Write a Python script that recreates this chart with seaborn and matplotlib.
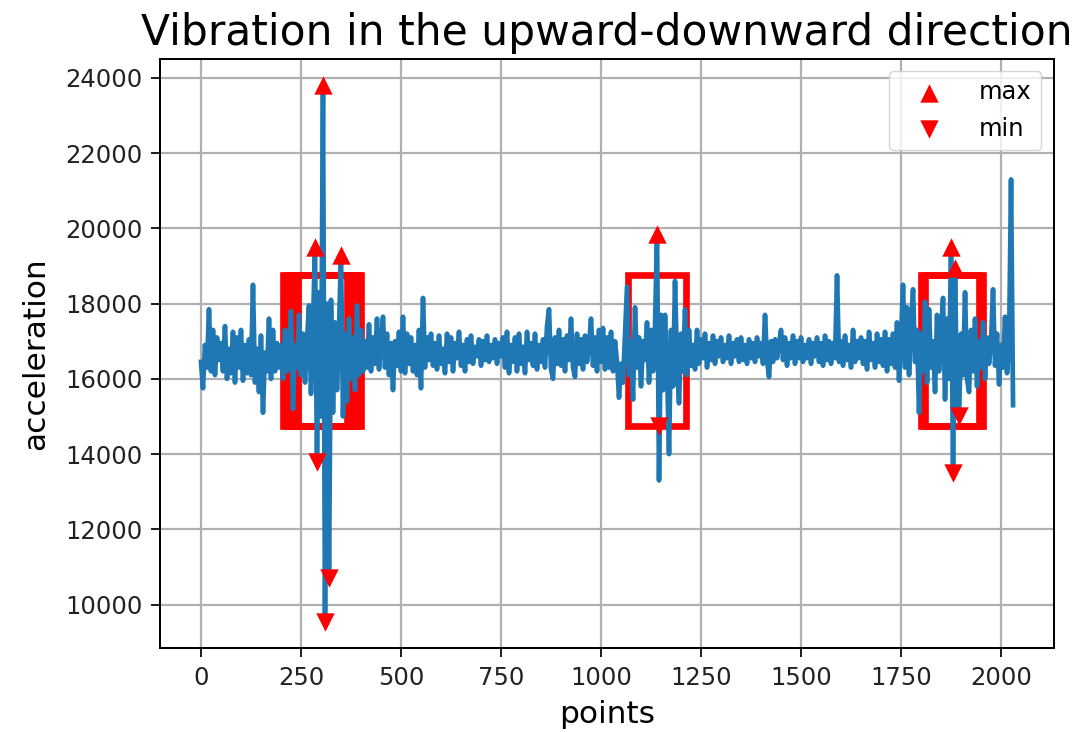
import numpy as np
import pandas as pd
import matplotlib
matplotlib.use("Agg")
import matplotlib.pyplot as plt
import seaborn as sns
from matplotlib.patches import Rectangle

# ---------------- data (one sample every 5 points) ----
step = 5
seg_quiet_start = [
    16450, 15750, 16900, 16300, 17850, 16200, 17300, 16100, 17100, 16500,
    16950, 16200, 17400, 16000, 16800, 16150, 17250, 15900, 17100, 16300,
    17300, 15950, 16900, 16150, 17050, 16100, 18500, 15900, 16800, 15650,
    17150, 15100, 16700, 16200, 17600, 16000, 17300, 16200, 16950, 16300,
]
seg_burst_1 = [
    16900, 16000, 17300, 16200, 16800, 17800, 15200, 16900, 16300, 17700,
    16100, 17200, 15900, 17000, 17950, 15600, 17400, 19500, 13800, 18300,
    15000, 23800, 9550, 18000, 10700, 18100, 15100, 17500, 15700, 17300,
    19300, 15000, 17200, 15400, 17600, 16000, 17100, 15700, 17950, 16100,
    17300, 16200, 17000,
]
seg_quiet_mid = [
    16300, 17450, 16200, 17100, 16400, 17600, 16250, 16900, 17650, 16300,
    17200, 16100, 16950, 15700, 17000, 16350, 17250, 16200, 17650, 16150,
    17200, 16400, 17100, 16200, 16900, 16100, 17300, 15750, 18150, 16300,
    17100, 16500, 17200, 16350, 16950, 16250, 17150, 16400, 16800, 16150,
    17200, 16450, 17100, 16200, 16950, 16550, 17250, 16350, 16900, 16200,
    17050, 16450, 17150, 16400, 16850, 16600, 17050, 16350, 17000, 16500,
    17150, 16450, 16900, 16550, 17050, 16400, 16950, 16600, 17100, 16300,
    17250, 16150, 16900, 16450, 17100, 16200, 17200, 16400, 16850, 16150,
    17250, 16500, 16950, 16350, 17200, 16250, 16900, 16450, 17050, 16300,
    17400, 17850, 16250, 16000, 17100, 16400, 17300, 16350, 17050, 16200,
    17150, 16500, 17600, 16300, 16050, 17200, 16400, 17050, 16250, 17150,
    16450, 16900, 17600, 16350, 17100, 16200, 17300, 16450, 17350, 16250,
    17100, 16300, 17250, 16200, 17000, 16450, 15500,
]
seg_burst_2 = [
    16400, 15900, 17200, 18450, 16100, 17000, 15450, 17900, 16300, 17100,
    15800, 17000, 16500, 17500, 15900, 17300, 16200, 17400, 19850, 13300,
    17700, 15700, 17700, 16300, 14000, 17300, 15800, 18600, 16400, 15350,
    17200, 16200, 17850, 16100, 17300, 16350,
]
seg_quiet_late = [
    16900, 16250, 17300, 16400, 17050, 16550, 17200, 16300, 16950, 16500,
    17150, 16400, 17000, 16600, 17100, 16450, 16900, 16550, 17150, 16400,
    16950, 16600, 17050, 16450, 17100, 16500, 16900, 16400, 17050, 16550,
    16950, 16450, 17100, 16600, 16950, 16400, 17700, 16500, 16050, 17000,
    16450, 17050, 16550, 16950, 17300, 16500, 17100, 16350, 16950, 16550,
    17150, 16400, 17000, 16550, 17100, 16450, 16900, 16550, 17050, 16400,
    16950, 16600, 17100, 16450, 16950, 16350, 17150, 16500, 17000, 16400,
    16950, 16550, 18750, 16450, 17000, 16350, 17150, 16500, 16900, 16300,
    17300, 16450, 17000, 16550, 17100, 16400, 17000, 16250, 17250, 16500,
    16950, 16300, 17200, 16450, 17050, 16350, 17250, 16200, 17050, 16400,
    17200, 16300, 17500, 15950,
]
seg_burst_3 = [
    17100, 18500, 16300, 17900, 16100, 17400, 18380, 16450, 17300, 15100,
    17200, 16200, 18050, 15900, 17850, 16300, 17000, 15650, 17700, 16200,
    17300, 18150, 15450, 17600, 16000, 19500, 13500, 18950, 15300, 15000,
    17200, 16100, 18300, 16000, 15650, 17300, 16200, 17600, 15800, 17000,
    16300, 17500, 16000, 17100, 16400, 17000, 18380, 16350, 17200, 15850,
    16900, 16300, 17650, 16150, 16900, 21300, 15300,
]

acceleration = np.array(seg_quiet_start + seg_burst_1 + seg_quiet_mid
                        + seg_burst_2 + seg_quiet_late + seg_burst_3, dtype=float)
points = np.arange(len(acceleration)) * step

max_x = [285, 305, 350, 1140, 1875, 1885]
max_y = [19500, 23800, 19300, 19850, 19500, 18950]
min_x = [290, 310, 320, 1145, 1880, 1895]
min_y = [13800, 9550, 10700, 14750, 13500, 15000]

# anomaly boxes (start point, end point), shared vertical range
box_x0 = [205, 215, 225, 235, 243, 1067, 1800, 1809]
box_x1 = [366, 376, 386, 393, 399, 1213, 1946, 1955]
box_low, box_high = 14750, 18750

title = "Vibration in the upward-downward direction"
xlabel = "points"
ylabel = "acceleration"
xticks = [0, 250, 500, 750, 1000, 1250, 1500, 1750, 2000]
yticks = [10000, 12000, 14000, 16000, 18000, 20000, 22000, 24000]

# ---------------- plot ------------------------------------------------------
plt.rcParams["font.family"] = ["DejaVu Sans"]
fig, ax = plt.subplots(figsize=(10.8, 7.32), dpi=100)
fig.subplots_adjust(left=0.1485, right=0.9756, bottom=0.1143, top=0.920)

df = pd.DataFrame({"points": points, "acceleration": acceleration})
sns.lineplot(data=df, x="points", y="acceleration", ax=ax, color="#1f77b4",
             linewidth=3.4, estimator=None, zorder=2)

for x0, x1 in zip(box_x0, box_x1):
    ax.add_patch(Rectangle((x0, box_low), x1 - x0, box_high - box_low,
                           fill=False, edgecolor="red", linewidth=4.8,
                           zorder=1.8))

sns.scatterplot(x=max_x, y=max_y, marker="^", color="red", s=175,
                linewidth=0, ax=ax, label="max", zorder=3)
sns.scatterplot(x=min_x, y=min_y, marker="v", color="red", s=175,
                linewidth=0, ax=ax, label="min", zorder=3)

ax.set_xticks(xticks)
ax.set_yticks(yticks)
ax.grid(True, color="#b0b0b0", linewidth=1.6)
ax.set_axisbelow(True)
for sp in ax.spines.values():
    sp.set_linewidth(1.44)
    sp.set_color("black")
ax.tick_params(axis="both", labelsize=17.5, length=6.3, width=1.44, pad=6.3,
               colors="#222222")
ax.set_xlabel(xlabel, fontsize=22.5, labelpad=7)
ax.set_ylabel(ylabel, fontsize=22.5, labelpad=11)
ax.set_title(title, fontsize=30.5, pad=10)
ax.legend(loc="upper right", fontsize=17.5, handlelength=2.5)

fig.savefig("out.png", dpi=100)
